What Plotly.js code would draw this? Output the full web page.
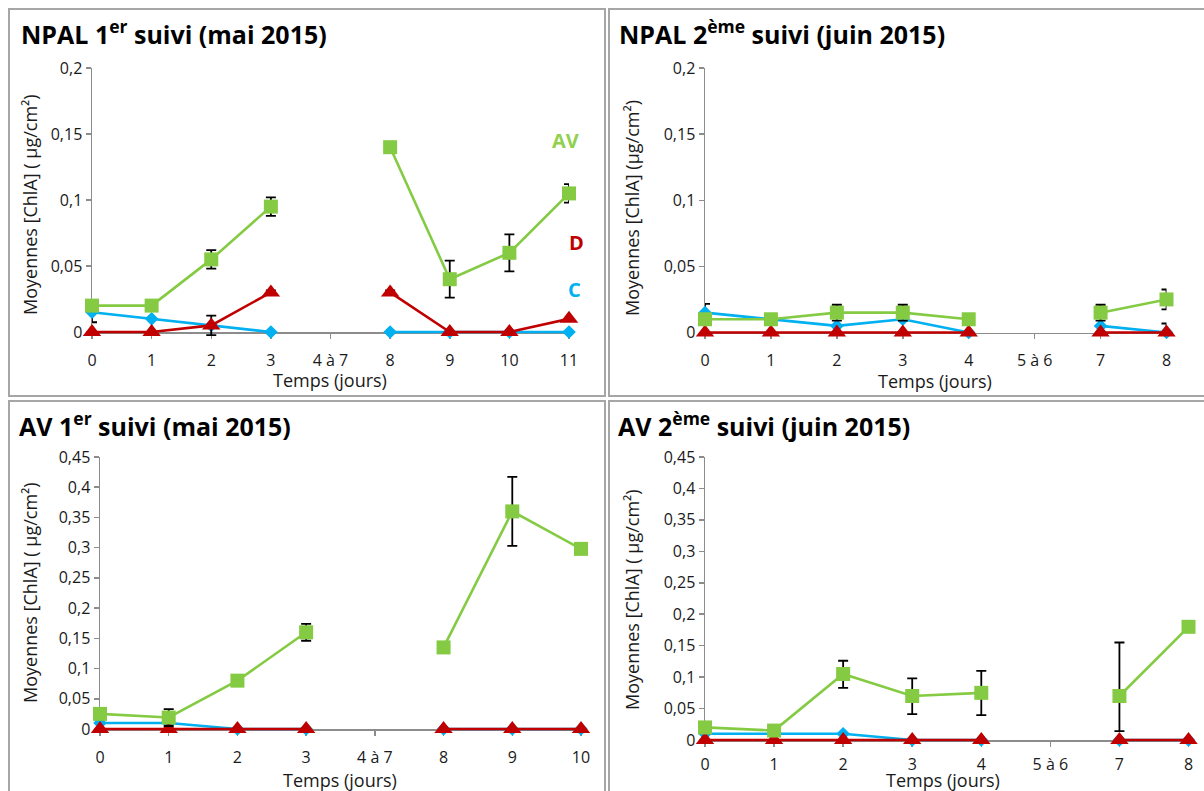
<!DOCTYPE html>
<html>
<head>
<meta charset="utf-8">
<script src="https://cdn.plot.ly/plotly-3.0.1.min.js"></script>
<style>html,body{margin:0;padding:0;background:#fff;}#chart{width:1204px;height:791px;}</style>
</head>
<body>
<div id="chart"></div>
<script>
// ---------- Data ----------
// Categories (days)
const catsMai1 = ['0', '1', '2', '3', '4 à 7', '8', '9', '10', '11'];
const catsJuin = ['0', '1', '2', '3', '4', '5 à 6', '7', '8'];
const catsMai2 = ['0', '1', '2', '3', '4 à 7', '8', '9', '10'];

// NPAL 1er suivi (mai 2015)
const npal1_AV = [0.02, 0.02, 0.055, 0.095, null, 0.14, 0.04, 0.06, 0.105];
const npal1_AV_err = [null, null, 0.007, 0.007, null, null, 0.014, 0.014, 0.007];
const npal1_D = [0, 0, 0.005, 0.03, null, 0.03, 0, 0, 0.01];
const npal1_D_err = [null, null, 0.0074, 0.0015, null, 0.0015, null, null, null];
const npal1_C = [0.015, 0.01, 0.005, 0, null, 0, 0, 0, 0];
const npal1_C_err = [0.0076, null, null, null, null, null, null, null, null];

// NPAL 2ème suivi (juin 2015)
const npal2_AV = [0.01, 0.01, 0.015, 0.015, 0.01, null, 0.015, 0.025];
const npal2_AV_err = [null, null, 0.006, 0.006, null, null, 0.006, 0.0075];
const npal2_D = [0, 0, 0, 0, 0, null, 0, 0];
const npal2_C = [0.015, 0.01, 0.005, 0.01, 0, null, 0.005, 0];
const npal2_C_errPlus = [0.0066, null, null, null, null, null, null, 0.0068];
const npal2_C_errMinus = [0.0066, null, null, null, null, null, null, 0];

// AV 1er suivi (mai 2015)
const av1_AV = [0.025, 0.019, 0.08, 0.16, null, 0.135, 0.36, 0.298];
const av1_AV_err = [null, 0.014, null, 0.014, null, null, 0.057, null];
const av1_D = [0, 0, 0, 0, null, 0, 0, 0];
const av1_C = [0.01, 0.01, 0, 0, null, 0, 0, 0];

// AV 2ème suivi (juin 2015)
const av2_AV = [0.02, 0.015, 0.105, 0.07, 0.075, null, 0.07, 0.18];
const av2_AV_errPlus = [null, null, 0.021, 0.028, 0.035, null, 0.085, null];
const av2_AV_errMinus = [null, null, 0.022, 0.029, 0.0355, null, 0.056, null];
const av2_D = [0, 0, 0, 0, 0, null, 0, 0];
const av2_C = [0.01, 0.01, 0.01, 0, 0, null, 0, 0];

// Y tick labels
const yTicksSmall = [0, 0.05, 0.1, 0.15, 0.2];
const yTickTextSmall = ['0', '0,05', '0,1', '0,15', '0,2'];
const yTicksLarge = [0, 0.05, 0.1, 0.15, 0.2, 0.25, 0.3, 0.35, 0.4, 0.45];
const yTickTextLarge = ['0', '0,05', '0,1', '0,15', '0,2', '0,25', '0,3', '0,35', '0,4', '0,45'];

// Texts
const titles = ['NPAL 1<sup>er</sup> suivi (mai 2015)', 'NPAL 2<sup>ème</sup> suivi (juin 2015)',
                'AV 1<sup>er</sup> suivi (mai 2015)', 'AV 2<sup>ème</sup> suivi (juin 2015)'];
const xTitle = 'Temps (jours)';
const yTitleA = 'Moyennes [ChlA] ( µg/cm²)';
const yTitleB = 'Moyennes [ChlA] (µg/cm²)';

// ---------- Styling ----------
const W = 1204, H = 791;
const px = v => v / W;
const py = v => 1 - v / H;
const FONT = 'Open Sans, Lato, sans-serif';
const GREEN = '#84CB43', GREEN_TXT = '#92D050', BLUE = '#00B0F0', RED = '#C00000';
const AXC = '#8C8C8C';
const EXT = 5; // px of plot area kept below the zero line so lines at 0 are not clipped

function errObj(plus, minus) {
  const e = {type: 'data', array: plus, visible: true, color: '#000', thickness: 1.8, width: 5};
  if (minus) { e.symmetric = false; e.arrayminus = minus; } else { e.symmetric = true; }
  return e;
}
function series(x, y, color, symbol, size, xa, ya, errP, errM) {
  const t = {
    type: 'scatter', mode: 'lines+markers', x: x, y: y,
    xaxis: xa, yaxis: ya, connectgaps: false, cliponaxis: false,
    line: {color: color, width: 2.6},
    marker: {color: color, symbol: symbol, size: size, line: {width: 0}},
    hoverinfo: 'x+y'
  };
  if (errP) t.error_y = errObj(errP, errM);
  return t;
}
function panel(cats, C, CerrP, CerrM, D, Derr, AV, AVerrP, AVerrM, n) {
  const xa = 'x' + (n === 1 ? '' : n), ya = 'y' + (n === 1 ? '' : n);
  return [
    series(cats, C, BLUE, 'diamond', 10.5, xa, ya, CerrP, CerrM),
    series(cats, D, RED, 'triangle-up', 16, xa, ya, Derr),
    series(cats, AV, GREEN, 'square', 14, xa, ya, AVerrP, AVerrM)
  ];
}

const data = [].concat(
  panel(catsMai1, npal1_C, npal1_C_err, null, npal1_D, npal1_D_err, npal1_AV, npal1_AV_err, null, 1),
  panel(catsJuin, npal2_C, npal2_C_errPlus, npal2_C_errMinus, npal2_D, null, npal2_AV, npal2_AV_err, null, 2),
  panel(catsMai2, av1_C, null, null, av1_D, null, av1_AV, av1_AV_err, null, 3),
  panel(catsJuin, av2_C, null, null, av2_D, null, av2_AV, av2_AV_errPlus, av2_AV_errMinus, 4)
);

function xAxis(cats, x0, x1, zeroPx, standoff) {
  return {
    type: 'category', categoryorder: 'array', categoryarray: cats,
    range: [0, cats.length - 1], domain: [px(x0), px(x1)],
    anchor: 'free', position: py(zeroPx),
    showline: true, linecolor: AXC, linewidth: 1.5, layer: 'below traces',
    ticks: 'outside', ticklen: 5, tickwidth: 1.5, tickcolor: AXC,
    showgrid: false, zeroline: false, fixedrange: true,
    tickfont: {family: FONT, size: 16, color: '#1a1a1a'},
    ticklabelstandoff: standoff
  };
}
function yAxis(max, tv, tt, zeroPx, topPx, anchor) {
  const perPx = max / (zeroPx - topPx);
  return {
    range: [-EXT * perPx, max], domain: [py(zeroPx + EXT), py(topPx)], anchor: anchor,
    tickmode: 'array', tickvals: tv, ticktext: tt,
    showline: true, linecolor: AXC, linewidth: 1.5, layer: 'below traces',
    ticks: 'outside', ticklen: 5, tickwidth: 1.5, tickcolor: AXC,
    showgrid: false, zeroline: false, fixedrange: true,
    tickfont: {family: FONT, size: 16, color: '#1a1a1a'}
  };
}

const annotations = [];
function txt(text, x, y, size, color, bold, angle, xanchor) {
  annotations.push({
    text: bold ? '<b>' + text + '</b>' : text,
    x: px(x), y: py(y), xref: 'paper', yref: 'paper',
    xanchor: xanchor || 'center', yanchor: 'middle', showarrow: false,
    textangle: angle || 0,
    font: {family: FONT, size: size, color: color}
  });
}
// Panel titles
txt(titles[0], 19, 33, 25, '#000', true, 0, 'left');
txt(titles[1], 617, 33, 25, '#000', true, 0, 'left');
txt(titles[2], 17, 425, 25, '#000', true, 0, 'left');
txt(titles[3], 616, 425, 25, '#000', true, 0, 'left');
// X titles
txt(xTitle, 330, 380, 18, '#1a1a1a', false);
txt(xTitle, 935, 381, 18, '#1a1a1a', false);
txt(xTitle, 340, 780, 18, '#1a1a1a', false);
txt(xTitle, 943, 780, 18, '#1a1a1a', false);
// Y titles
txt(yTitleA, 30, 205, 18, '#1a1a1a', false, -90);
txt(yTitleB, 632, 208, 18, '#1a1a1a', false, -90);
txt(yTitleA, 30, 593, 18, '#1a1a1a', false, -90);
txt(yTitleA, 632, 600, 18, '#1a1a1a', false, -90);
// Series labels
txt('AV', 565, 140, 20, GREEN_TXT, true);
txt('D', 576, 243, 20, RED, true);
txt('C', 574, 290, 20, BLUE, true);

const border = {color: '#A6A6A6', width: 2};
const shapes = [
  {type: 'rect', xref: 'paper', yref: 'paper', x0: px(9), x1: px(605), y0: py(396), y1: py(9), line: border},
  {type: 'rect', xref: 'paper', yref: 'paper', x0: px(609), x1: px(1210), y0: py(396), y1: py(9), line: border},
  {type: 'rect', xref: 'paper', yref: 'paper', x0: px(9), x1: px(605), y0: py(800), y1: py(401), line: border},
  {type: 'rect', xref: 'paper', yref: 'paper', x0: px(609), x1: px(1210), y0: py(800), y1: py(401), line: border}
];

const layout = {
  width: W, height: H,
  margin: {l: 0, r: 0, t: 0, b: 0, pad: 0},
  paper_bgcolor: '#fff', plot_bgcolor: 'rgba(0,0,0,0)',
  showlegend: false,
  font: {family: FONT},
  xaxis:  xAxis(catsMai1, 92, 569, 332, 8),
  yaxis:  yAxis(0.2, yTicksSmall, yTickTextSmall, 332, 68, 'x'),
  xaxis2: xAxis(catsJuin, 705, 1166.5, 332.5, 8),
  yaxis2: yAxis(0.2, yTicksSmall, yTickTextSmall, 332.5, 68, 'x2'),
  xaxis3: xAxis(catsMai2, 100, 581, 729, 8),
  yaxis3: yAxis(0.45, yTicksLarge, yTickTextLarge, 729, 457, 'x3'),
  xaxis4: xAxis(catsJuin, 705, 1188.5, 740, 4),
  yaxis4: yAxis(0.45, yTicksLarge, yTickTextLarge, 740, 457, 'x4'),
  annotations: annotations,
  shapes: shapes
};

Plotly.newPlot('chart', data, layout, {displayModeBar: false, staticPlot: true});
</script>
</body>
</html>
